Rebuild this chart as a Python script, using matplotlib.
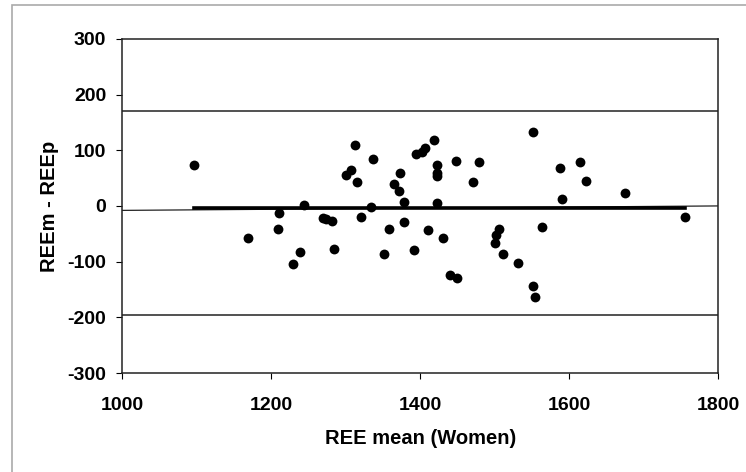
import matplotlib
matplotlib.use("Agg")
import matplotlib.pyplot as plt
from matplotlib.patches import Rectangle
import numpy as np

plt.rcParams['font.family'] = ['Liberation Sans', 'DejaVu Sans']
plt.rcParams['axes.unicode_minus'] = False

# Data
ree_mean = [1096, 1169, 1211, 1209, 1229, 1238, 1244, 1270, 1274, 1281,
            1284, 1301, 1307, 1313, 1315, 1321, 1334, 1336, 1351, 1358,
            1365, 1371, 1373, 1378, 1378, 1392, 1395, 1402, 1406, 1411,
            1419, 1422, 1423, 1422, 1422, 1431, 1440, 1450, 1448, 1471,
            1479, 1500, 1502, 1506, 1511, 1532, 1551, 1554, 1552, 1563,
            1588, 1590, 1615, 1623, 1675, 1756]
ree_diff = [73, -57, -13, -41, -105, -83, 2, -21, -24, -27,
            -77, 56, 65, 109, 43, -19, -2, 84, -86, -41,
            40, 26, 60, 7, -29, -80, 93, 96, 104, -44,
            118, 74, 59, 53, 5, -57, -124, -130, 81, 43,
            79, -66, -53, -41, -87, -102, -144, -163, 132, -38,
            68, 12, 79, 45, 23, -19]

mean_diff = -3
upper_loa = 170
lower_loa = -195
trend_x = [1000, 1800]
trend_y = [-8, 0]

x_ticks = [1000, 1200, 1400, 1600, 1800]
y_ticks = [-300, -200, -100, 0, 100, 200, 300]

fig = plt.figure(figsize=(7.46, 4.72), dpi=100)
ax = fig.add_axes([0.164, 0.2097, 0.7985, 0.708])

ax.scatter(ree_mean, ree_diff, s=50, color='black', zorder=3, linewidths=0)
ax.axhline(upper_loa, color='#222222', lw=1.1, zorder=2)
ax.axhline(lower_loa, color='#222222', lw=1.1, zorder=2)
ax.plot(trend_x, trend_y, color='#222222', lw=0.9, zorder=2)
ax.plot([min(ree_mean), max(ree_mean)], [mean_diff, mean_diff],
        color='black', lw=2.6, zorder=2)

ax.set_xlim(1000, 1800)
ax.set_ylim(-300, 300)
ax.set_xticks(x_ticks)
ax.set_yticks(y_ticks)
ax.tick_params(axis='x', direction='out', length=4.5, width=0.8, pad=12.5,
               labelsize=14)
ax.tick_params(axis='y', direction='out', length=4.5, width=0.8, pad=7,
               labelsize=14)
for lab in ax.get_xticklabels() + ax.get_yticklabels():
    lab.set_fontweight('bold')
for sp in ax.spines.values():
    sp.set_linewidth(1.1)
    sp.set_color('#222222')

ax.set_xlabel('REE mean (Women)', fontsize=14.5, fontweight='bold', labelpad=11)
ax.set_ylabel('REEm - REEp', fontsize=14.5, fontweight='bold', labelpad=6)

fig.patches.append(Rectangle((12 / 746, -0.2), 1.2, 0.2 + 467 / 472,
                             transform=fig.transFigure, fill=False,
                             edgecolor='#aaaaaa', lw=1.2))

fig.savefig('out.png', dpi=100)
